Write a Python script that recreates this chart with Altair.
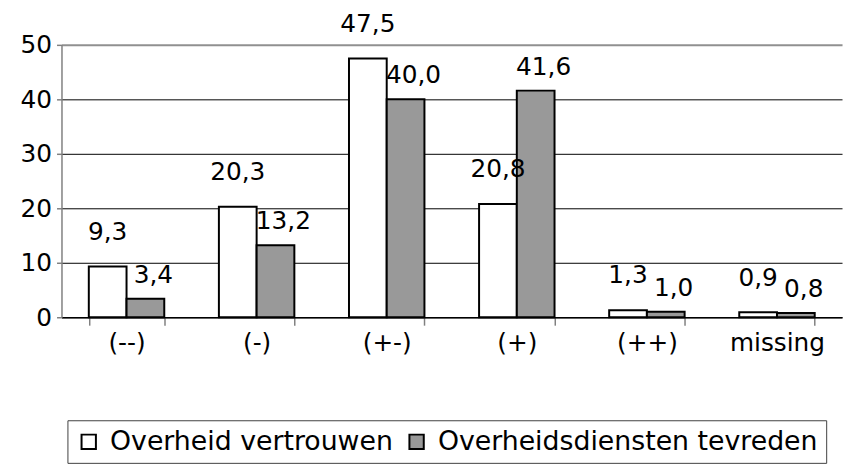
import altair as alt
import pandas as pd

categories = ["(--)", "(-)", "(+-)", "(+)", "(++)", "missing"]
series_names = ["Overheid vertrouwen", "Overheidsdiensten tevreden"]
vertrouwen = [9.3, 20.3, 47.5, 20.8, 1.3, 0.9]
tevreden = [3.4, 13.2, 40.0, 41.6, 1.0, 0.8]
colors = ["#ffffff", "#999999"]

rows = []
for s, vals in zip(series_names, [vertrouwen, tevreden]):
    for c, v in zip(categories, vals):
        rows.append({"cat": c, "series": s, "value": v,
                     "label": f"{v:.1f}".replace(".", ",")})
df = pd.DataFrame(rows)

FONT = "DejaVu Sans"
FS = 25

x = alt.X("cat:N", sort=categories, title=None,
          scale=alt.Scale(paddingInner=0.42, paddingOuter=0.21),
          axis=alt.Axis(labelAngle=0, labelFontSize=FS, labelPadding=6,
                        labelColor="black", domainColor="black", domainWidth=1.5,
                        tickBand="extent", tickColor="#808080", tickSize=8,
                        tickWidth=1.5, grid=False, labelFont=FONT))
xo = alt.XOffset("series:N", scale=alt.Scale(domain=series_names))
y = alt.Y("value:Q", title=None,
          scale=alt.Scale(domain=[0, 50], nice=False),
          axis=alt.Axis(values=[0, 10, 20, 30, 40, 50], labelFontSize=FS,
                        labelColor="black", labelFont=FONT, labelPadding=5,
                        domainColor="#808080", domainWidth=1.5,
                        tickColor="#808080", tickSize=5, tickWidth=1.5,
                        grid=True,
                        gridColor={"condition": {"test": "datum.value === 50", "value": "#909090"}, "value": "black"},
                        gridWidth={"condition": {"test": "datum.value === 50", "value": 2}, "value": 1}))

base = alt.Chart(df)

bars = base.mark_bar(stroke="black", strokeWidth=2).encode(
    x=x, xOffset=xo, y=y,
    color=alt.Color("series:N", scale=alt.Scale(domain=series_names, range=colors),
                    legend=alt.Legend(title=None, orient="none", direction="horizontal",
                                      legendX=6, legendY=379,
                                      labelFontSize=27, labelFont=FONT, labelColor="black",
                                      symbolType="square", symbolSize=210,
                                      symbolStrokeColor="black", symbolStrokeWidth=2,
                                      strokeColor="#404040", padding=8,
                                      columnPadding=10, labelOffset=8,
                                      labelLimit=600)),
)

t1 = base.transform_filter(alt.datum.series == series_names[0]).mark_text(
    baseline="bottom", dy=-22, fontSize=FS, font=FONT, color="black").encode(
    x=x, xOffset=xo, y=y, text="label:N")
t2 = base.transform_filter(alt.datum.series == series_names[1]).mark_text(
    baseline="bottom", dy=-11, dx=8, fontSize=FS, font=FONT, color="black").encode(
    x=x, xOffset=xo, y=y, text="label:N")

chart = alt.layer(bars, t1, t2).properties(
    width=788, height=275,
    autosize=alt.AutoSizeParams(type="none"),
    padding={"left": 54, "top": 35, "right": 3, "bottom": 152},
    background="white",
).configure_view(stroke=None)

chart.save("out.html", embed_options={"renderer": "svg", "actions": False})
